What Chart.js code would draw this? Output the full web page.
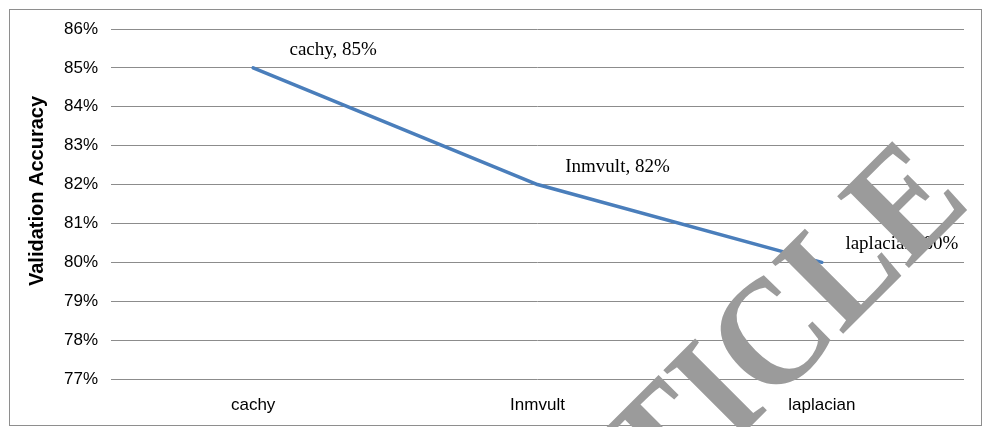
<!DOCTYPE html>
<html>
<head>
<meta charset="utf-8">
<script src="https://cdn.jsdelivr.net/npm/chart.js@4.4.1/dist/chart.umd.min.js"></script>
<style>
  html, body { margin: 0; padding: 0; background: #ffffff; }
  #wrap { width: 985px; height: 427px; position: relative; }
</style>
</head>
<body>
<div id="wrap"><canvas id="c" width="985" height="427"></canvas></div>
<script>
// Validation accuracy per activation function
const categories = ['cachy', 'Inmvult', 'laplacian'];
const accuracy = [85, 82, 80];          // percent
const yTicks = [77, 78, 79, 80, 81, 82, 83, 84, 85, 86];
const yTitle = 'Validation Accuracy';
const stampText = 'RETRACTED ARTICLE';

// Frame around the whole figure
const framePlugin = {
  id: 'frame',
  beforeDraw(chart) {
    const ctx = chart.ctx;
    ctx.save();
    ctx.fillStyle = '#ffffff';
    ctx.fillRect(0, 0, chart.width, chart.height);
    ctx.strokeStyle = '#8e8e8e';
    ctx.lineWidth = 1;
    ctx.strokeRect(9.5, 9.5, 972, 416);
    ctx.restore();
  }
};

// Rotated value-axis title
const axisTitlePlugin = {
  id: 'axisTitle',
  afterDraw(chart) {
    const ctx = chart.ctx;
    ctx.save();
    ctx.translate(37.5, 191);
    ctx.rotate(-Math.PI / 2);
    ctx.font = 'bold 20px "Liberation Sans", Arial, Helvetica, sans-serif';
    ctx.fillStyle = '#000000';
    ctx.textAlign = 'center';
    ctx.textBaseline = 'middle';
    ctx.fillText(yTitle, 0, 0);
    ctx.restore();
  }
};

// "name, value%" labels beside each point
const pointLabelPlugin = {
  id: 'pointLabels',
  afterDatasetsDraw(chart) {
    const ctx = chart.ctx;
    const meta = chart.getDatasetMeta(0);
    ctx.save();
    ctx.font = '19px "Liberation Serif", "Times New Roman", serif';
    ctx.fillStyle = '#000000';
    ctx.textAlign = 'center';
    ctx.textBaseline = 'middle';
    meta.data.forEach((pt, i) => {
      ctx.fillText(categories[i] + ', ' + accuracy[i] + '%', pt.x + 80, pt.y - 18);
    });
    ctx.restore();
  }
};

// Diagonal grey stamp over the figure
const stampPlugin = {
  id: 'stamp',
  afterDraw(chart) {
    const ctx = chart.ctx;
    ctx.save();
    ctx.beginPath();
    ctx.rect(0, 0, chart.width, chart.height);
    ctx.clip();
    ctx.translate(973, 204);
    ctx.rotate(-Math.PI / 4);
    ctx.scale(0.9, 1);
    ctx.font = 'bold 155px "Liberation Serif", "Times New Roman", serif';
    ctx.fillStyle = '#9b9b9b';
    ctx.textAlign = 'right';
    ctx.textBaseline = 'alphabetic';
    ctx.fillText(stampText, 0, 0);
    ctx.restore();
  }
};

const tickFont = { family: '"Liberation Sans", Arial, Helvetica, sans-serif', size: 17 };

new Chart(document.getElementById('c'), {
  type: 'line',
  data: {
    labels: categories,
    datasets: [{
      data: accuracy,
      borderColor: '#4a7ebb',
      borderWidth: 3.5,
      borderCapStyle: 'round',
      borderJoinStyle: 'round',
      pointRadius: 0,
      pointHoverRadius: 0,
      tension: 0,
      fill: false
    }]
  },
  options: {
    responsive: false,
    animation: false,
    devicePixelRatio: 1,
    layout: { padding: { top: 29, right: 21, left: 0, bottom: 0 } },
    plugins: {
      legend: { display: false },
      tooltip: { enabled: false },
      title: { display: false }
    },
    scales: {
      x: {
        type: 'category',
        offset: true,
        grid: { display: false, drawTicks: false },
        border: { display: false },
        ticks: { color: '#000000', font: tickFont, padding: 16, maxRotation: 0 },
        afterFit(scale) { scale.height = 48; }
      },
      y: {
        min: yTicks[0],
        max: yTicks[yTicks.length - 1],
        afterBuildTicks(scale) { scale.ticks = yTicks.map(v => ({ value: v })); },
        grid: { color: '#8c8c8c', lineWidth: 1, drawTicks: false },
        border: { display: false },
        ticks: {
          color: '#000000',
          font: tickFont,
          padding: 13,
          callback: v => v + '%'
        },
        afterFit(scale) { scale.width = 111; }
      }
    }
  },
  plugins: [framePlugin, pointLabelPlugin, axisTitlePlugin, stampPlugin]
});
</script>
</body>
</html>
